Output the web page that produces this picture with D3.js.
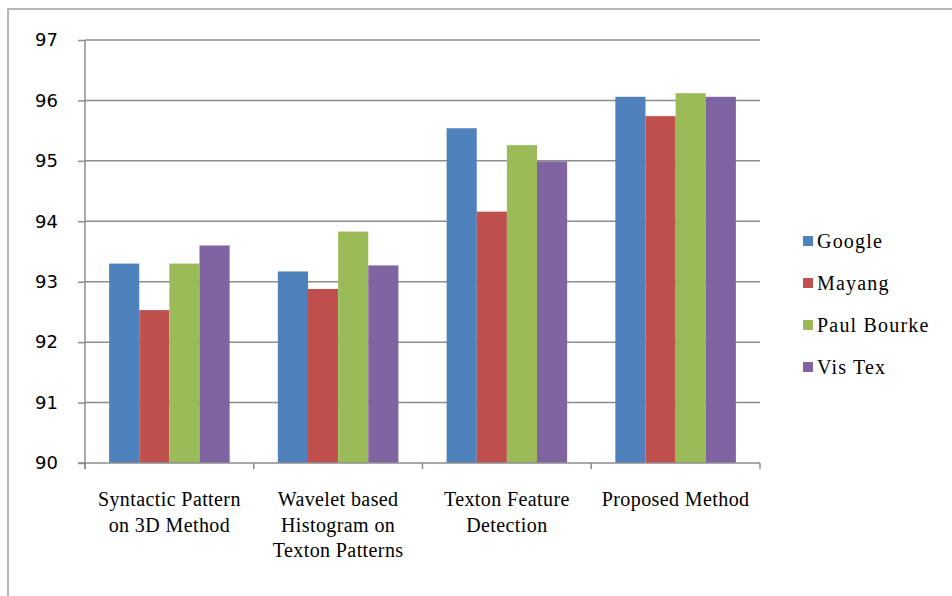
<!DOCTYPE html>
<html><head><meta charset="utf-8">
<script src="https://cdn.jsdelivr.net/npm/d3@7"></script>
<style>body{margin:0;background:#fff}svg{display:block}</style>
</head><body>
<svg id="c" width="952" height="596"></svg>
<script>
const categories = [
  ["Syntactic Pattern","on 3D Method"],
  ["Wavelet based","Histogram on","Texton Patterns"],
  ["Texton Feature","Detection"],
  ["Proposed Method"]
];
const seriesNames = ["Google","Mayang","Paul Bourke","Vis Tex"];
const google     = [93.30, 93.17, 95.54, 96.06];
const mayang     = [92.53, 92.88, 94.16, 95.74];
const paulBourke = [93.30, 93.83, 95.26, 96.12];
const visTex     = [93.60, 93.27, 94.99, 96.06];
const colors = ["#4f81bd","#c0504d","#9bbb59","#8064a2"];
const yTicks = [90,91,92,93,94,95,96,97];

const seriesValues = [google, mayang, paulBourke, visTex];
const svg = d3.select("#c");
const L = 85, R = 760, T = 40, B = 463;

svg.append("path").attr("d", `M8,600 L8,9 L960,9`).attr("fill","none")
  .attr("stroke","#a0a0a0").attr("stroke-width",1.5);

const y = d3.scaleLinear().domain([90,97]).range([B,T]);
const x0 = d3.scaleBand().domain(d3.range(categories.length)).range([L,R]).padding(0);
const x1 = d3.scaleBand().domain(d3.range(seriesNames.length)).range([0,x0.bandwidth()]).paddingInner(0).paddingOuter(0.8);

// gridlines
svg.append("g").selectAll("line").data(yTicks.slice(1)).join("line")
  .attr("x1",L).attr("x2",R).attr("y1",d=>y(d)).attr("y2",d=>y(d))
  .attr("stroke","#8c8c8c").attr("stroke-width",1.5);

// bars
const g = svg.append("g");
categories.forEach((c,i)=>{
  seriesValues.forEach((vals,s)=>{
    g.append("rect")
      .attr("x", x0(i)+x1(s)).attr("width", x1.bandwidth())
      .attr("y", y(vals[i])).attr("height", y(90)-y(vals[i]))
      .attr("fill", colors[s]);
  });
});

// y axis
const yAxis = d3.axisLeft(y).tickValues(yTicks).tickSize(7).tickPadding(20).tickFormat(d3.format("d"));
const ya = svg.append("g").attr("transform",`translate(${L},0)`).call(yAxis);
ya.select(".domain").attr("stroke","#8c8c8c").attr("stroke-width",1.5).attr("d",`M0,${T}V${B+6}`);
ya.selectAll(".tick line").attr("stroke","#8c8c8c").attr("stroke-width",1.5);
ya.selectAll(".tick text").attr("font-family","'DejaVu Sans', sans-serif").attr("font-size",18).attr("fill","#000");

// x axis
const xa = svg.append("g").attr("transform",`translate(0,${B})`);
xa.append("line").attr("x1",L-7).attr("x2",R).attr("y1",0).attr("y2",0).attr("stroke","#8c8c8c").attr("stroke-width",1.5);
const bounds = d3.range(categories.length+1).map(i => i<categories.length ? x0(i) : x0(i-1)+x0.bandwidth());
xa.selectAll("line.tk").data(bounds).join("line").attr("class","tk")
  .attr("x1",d=>d).attr("x2",d=>d).attr("y1",0).attr("y2",6)
  .attr("stroke","#8c8c8c").attr("stroke-width",1.5);

categories.forEach((lines,i)=>{
  const t = svg.append("text").attr("text-anchor","middle")
    .attr("font-family","'Liberation Serif', serif").attr("font-size",20)
    .attr("letter-spacing",0.4).attr("fill","#000");
  lines.forEach((ln,k)=>{
    t.append("tspan").attr("x", x0(i)+x0.bandwidth()/2).attr("y", 506 + k*25.5).text(ln);
  });
});

// legend
const lg = svg.append("g");
seriesNames.forEach((n,s)=>{
  const cy = 241 + s*42;
  lg.append("rect").attr("x",803).attr("y",cy-5).attr("width",10).attr("height",10).attr("fill",colors[s]);
  lg.append("text").attr("x",817).attr("y",cy+7).attr("font-family","'Liberation Serif', serif")
    .attr("font-size",20).attr("letter-spacing",1.2).attr("fill","#000").text(n);
});
</script>
</body></html>
